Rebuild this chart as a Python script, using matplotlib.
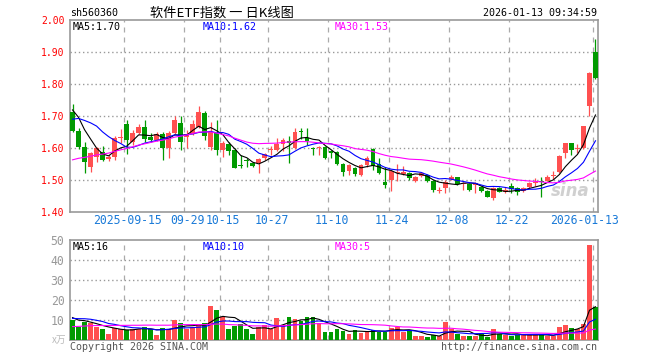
import matplotlib.pyplot as plt
import numpy as np
import pandas as pd

# daily bars, 2025-09-02 .. 2026-01-13 (88 trading days)
open_ = [1.713, 1.653, 1.604, 1.542, 1.573, 1.588, 1.566, 1.573, 1.632, 1.674,
         1.619, 1.648, 1.666, 1.635, 1.624, 1.644, 1.600, 1.647, 1.678, 1.633,
         1.644, 1.666, 1.710, 1.603, 1.647, 1.595, 1.613, 1.595, 1.548, 1.563,
         1.553, 1.553, 1.570, 1.595, 1.594, 1.611, 1.622, 1.599, 1.652, 1.630,
         1.598, 1.601, 1.604, 1.592, 1.589, 1.550, 1.527, 1.537, 1.516, 1.548,
         1.597, 1.549, 1.495, 1.500, 1.521, 1.520, 1.523, 1.498, 1.513, 1.516,
         1.498, 1.465, 1.474, 1.502, 1.508, 1.488, 1.488, 1.484, 1.477, 1.467,
         1.443, 1.474, 1.463, 1.481, 1.474, 1.467, 1.477, 1.490, 1.498, 1.498,
         1.514, 1.526, 1.583, 1.615, 1.597, 1.599, 1.731, 1.901]
high = [1.738, 1.663, 1.620, 1.588, 1.604, 1.607, 1.578, 1.638, 1.660, 1.688,
        1.656, 1.675, 1.688, 1.647, 1.650, 1.650, 1.653, 1.700, 1.700, 1.656,
        1.689, 1.731, 1.716, 1.681, 1.688, 1.622, 1.619, 1.600, 1.578, 1.569,
        1.556, 1.569, 1.584, 1.606, 1.631, 1.631, 1.638, 1.662, 1.662, 1.662,
        1.604, 1.606, 1.606, 1.594, 1.592, 1.553, 1.550, 1.541, 1.550, 1.575,
        1.600, 1.569, 1.542, 1.531, 1.550, 1.544, 1.525, 1.514, 1.525, 1.519,
        1.500, 1.477, 1.500, 1.516, 1.509, 1.494, 1.491, 1.494, 1.480, 1.469,
        1.479, 1.478, 1.479, 1.490, 1.477, 1.477, 1.494, 1.505, 1.510, 1.516,
        1.529, 1.577, 1.616, 1.616, 1.614, 1.670, 1.836, 1.940]
low = [1.650, 1.596, 1.523, 1.526, 1.557, 1.559, 1.559, 1.561, 1.616, 1.582,
       1.609, 1.644, 1.619, 1.619, 1.622, 1.563, 1.568, 1.645, 1.594, 1.600,
       1.641, 1.663, 1.624, 1.594, 1.578, 1.573, 1.578, 1.536, 1.537, 1.542,
       1.541, 1.521, 1.563, 1.578, 1.591, 1.591, 1.554, 1.597, 1.628, 1.609,
       1.578, 1.578, 1.566, 1.568, 1.548, 1.513, 1.516, 1.513, 1.513, 1.540,
       1.531, 1.520, 1.475, 1.467, 1.498, 1.516, 1.500, 1.495, 1.508, 1.495,
       1.463, 1.458, 1.460, 1.500, 1.484, 1.469, 1.467, 1.460, 1.464, 1.446,
       1.438, 1.463, 1.458, 1.458, 1.453, 1.463, 1.475, 1.481, 1.446, 1.497,
       1.502, 1.521, 1.568, 1.578, 1.585, 1.597, 1.700, 1.815]
close = [1.654, 1.604, 1.557, 1.585, 1.599, 1.563, 1.573, 1.631, 1.635, 1.625,
         1.648, 1.666, 1.628, 1.625, 1.644, 1.601, 1.648, 1.688, 1.620, 1.644,
         1.675, 1.713, 1.637, 1.650, 1.594, 1.615, 1.590, 1.538, 1.545, 1.560,
         1.544, 1.565, 1.580, 1.598, 1.614, 1.625, 1.616, 1.651, 1.650, 1.623,
         1.596, 1.604, 1.569, 1.583, 1.550, 1.526, 1.547, 1.520, 1.547, 1.570,
         1.544, 1.523, 1.484, 1.528, 1.526, 1.526, 1.505, 1.510, 1.521, 1.498,
         1.469, 1.468, 1.495, 1.508, 1.488, 1.492, 1.469, 1.490, 1.467, 1.448,
         1.474, 1.463, 1.469, 1.471, 1.463, 1.474, 1.492, 1.492, 1.495, 1.508,
         1.516, 1.575, 1.615, 1.594, 1.599, 1.669, 1.834, 1.820]
volume = [10, 6.7, 9.2, 8.3, 6.7, 5.5, 3, 6.2, 5.5, 5,
          5.5, 5.5, 6.7, 5.3, 2.5, 6.2, 5.5, 10, 8.3, 5.3,
          6.7, 7.5, 8.3, 17, 15, 11.3, 5.5, 7.2, 8, 5.5,
          3, 6.3, 7.5, 5.5, 11.2, 7.5, 11.7, 10.3, 9.7, 11.7,
          11.7, 8.3, 4.2, 4.2, 5.5, 4.7, 3, 5, 3.7, 4.7,
          5, 4.2, 4.2, 6.2, 6.3, 4.2, 4.7, 2, 2, 1.3,
          2.5, 2, 9.2, 5.5, 3, 2, 2, 2, 3, 1.7,
          5.5, 3, 2.5, 2, 2.5, 3, 2.5, 2.5, 2.5, 2,
          2, 6.7, 7.5, 5.8, 5.5, 8, 47.5, 16.3]

# the 29 sessions before the first bar, only used to seed the moving averages
warm_close = [1.46, 1.47, 1.48, 1.47, 1.49, 1.48, 1.47, 1.49, 1.50,
              1.49, 1.50, 1.51, 1.50, 1.52, 1.51, 1.53, 1.52, 1.53, 1.54, 1.53,
              1.58, 1.62, 1.66, 1.70, 1.745,
              1.72, 1.75, 1.73, 1.741]
warm_vol = [3.5, 4, 3, 4.5, 5, 3.8, 4.2, 5, 4.5, 4,
            5.5, 4.8, 5, 4.2, 5.5, 6, 5, 4.5, 5.2, 5.8,
            8, 9.5, 11, 12, 11.5,
            13, 10.5, 12, 10.5]

tick_idx = [9, 19, 25, 33, 43, 53, 63, 73, 87]
tick_labels = ['2025-09-15', '09-29', '10-15', '10-27', '11-10',
               '11-24', '12-08', '12-22', '2026-01-13']

code = 'sh560360'
title = '软件ETF指数 一 日K线图'
stamp = '2026-01-13 09:34:59'

RED = '#ff5050'
GREEN = '#009a00'
GRID = '#999999'
MONO = 'DejaVu Sans Mono'
CJK = ['Noto Sans CJK SC', 'DejaVu Sans']

n = len(close)
x = np.arange(n)
o = np.array(open_)
c = np.array(close)
h = np.array(high)
l = np.array(low)
v = np.array(volume)
up = c >= o
colors = np.where(up, RED, GREEN)

nw = len(warm_close)
cs = pd.Series(warm_close + close)
vs = pd.Series(warm_vol + volume)
ma = {p: cs.rolling(p).mean().to_numpy()[nw:] for p in (5, 10, 30)}
vma = {p: vs.rolling(p).mean().to_numpy()[nw:] for p in (5, 10, 30)}
ma_colors = {5: 'black', 10: '#0000ff', 30: '#ff00ff'}

W, H = 660, 360
fig = plt.figure(figsize=(W / 100, H / 100), dpi=100)


def px_axes(left, top, right, bottom):
    return fig.add_axes([left / W, 1 - bottom / H, (right - left) / W, (bottom - top) / H])


def px_text(px, py, s, **kw):
    fig.text(px / W, 1 - py / H, s, **kw)


ax = px_axes(70, 20, 598, 212)
axv = px_axes(70, 240, 598, 340)
xlim = (-0.42, n - 1 + 0.42)
vline_x = np.array(tick_idx) - 0.42

for a in (ax, axv):
    a.set_xlim(*xlim)
    a.set_facecolor('white')
    for s in a.spines.values():
        s.set_color('#999999')
        s.set_linewidth(1.2)
    a.tick_params(length=0)
    a.set_xticks([])
    for vx in vline_x:
        a.axvline(vx, color='#aaaaaa', lw=0.9, ls=(0, (4, 4)), zorder=0)

# price panel
ax.set_ylim(1.40, 2.00)
for yv in np.arange(1.5, 1.95, 0.1):
    ax.axhline(yv, color=GRID, lw=1.0, ls=(0, (1, 2)), zorder=0)
ax.set_yticks(np.round(np.arange(1.4, 2.01, 0.1), 2))
ax.set_yticklabels([f'{t:.2f}' for t in np.arange(1.4, 2.01, 0.1)],
                   color='#ff0000', family=MONO, fontsize=7)
ax.tick_params(axis='y', pad=4)

ax.vlines(x, l, h, colors=colors, lw=0.9, zorder=2)
body = np.maximum(np.abs(c - o), 0.003)
ax.bar(x, body, bottom=np.minimum(o, c), width=0.8, color=colors, lw=0, zorder=3)
for p in (5, 10, 30):
    ax.plot(x, ma[p], color=ma_colors[p], lw=0.8, zorder=4)

ax.text(0.985, 0.06, 'sina', transform=ax.transAxes, ha='right', va='bottom',
        color='#d0d0d0', fontsize=12, fontstyle='italic', fontweight='bold', zorder=1)

for i, lab in zip(tick_idx, tick_labels):
    xi = i + 0.08 if i != tick_idx[-1] else i - 1.75
    ax.text(xi, -0.042, lab, transform=ax.get_xaxis_transform(), ha='center', va='center',
            color='#1a7ad8', family=MONO, fontsize=8.3)

# volume panel
axv.set_ylim(0, 50)
for yv in (10, 20, 30, 40):
    axv.axhline(yv, color=GRID, lw=1.0, ls=(0, (1, 2)), zorder=0)
axv.set_yticks([10, 20, 30, 40, 50])
axv.set_yticklabels(['10', '20', '30', '40', '50'], color='#999999', family=MONO, fontsize=8.3)
axv.tick_params(axis='y', pad=4)
axv.bar(x, v, width=0.8, color=colors, lw=0, zorder=3)
for p in (5, 10, 30):
    axv.plot(x, vma[p], color=ma_colors[p], lw=0.8, zorder=4)
px_text(66, 340, 'x万', ha='right', va='center', color='#bbbbbb', fontsize=7, family=CJK)

# header and legends
px_text(70, 13, code, ha='left', va='center', family=MONO, fontsize=7.2)
px_text(150, 13, title, ha='left', va='center', family=CJK, fontsize=9.5)
px_text(597, 13, stamp, ha='right', va='center', family=MONO, fontsize=7.2)

ma_x = {5: 73, 10: 203, 30: 335}
for p in (5, 10, 30):
    px_text(ma_x[p], 27, f'MA{p}:{ma[p][-1]:.2f}', ha='left', va='center',
            color=ma_colors[p], family=MONO, fontsize=7.2)
    px_text(ma_x[p], 247, f'MA{p}:{int(vma[p][-1])}', ha='left', va='center',
            color=ma_colors[p], family=MONO, fontsize=7.2)

px_text(70, 347, 'Copyright 2026 SINA.COM', ha='left', va='center',
        color='#555555', family=MONO, fontsize=7.2)
px_text(597, 347, 'http://finance.sina.com.cn', ha='right', va='center',
        color='#555555', family=MONO, fontsize=7.2)

fig.savefig('out.png', dpi=100)
